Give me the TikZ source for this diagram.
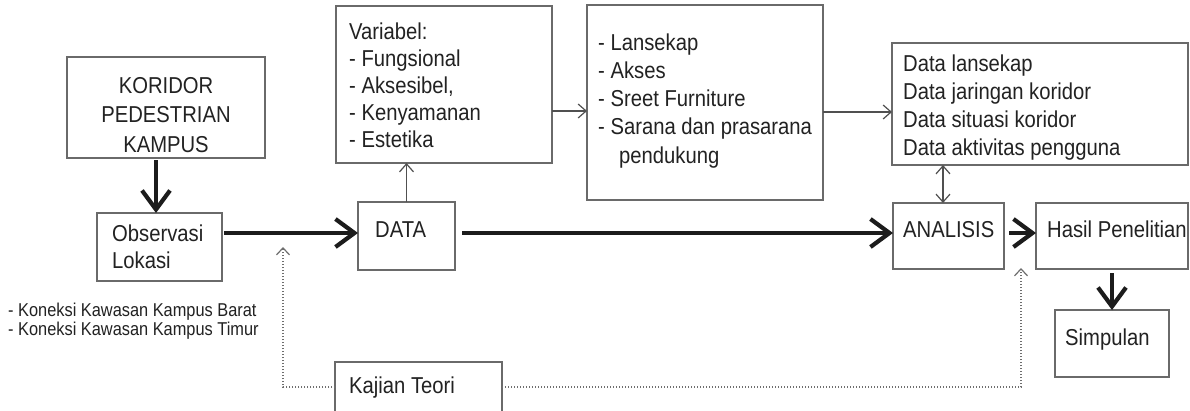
\documentclass[tikz,border=0pt]{standalone}
\usepackage{fontspec}
\setmainfont{Liberation Sans}[FakeStretch=0.88]
\usetikzlibrary{arrows.meta}
\definecolor{boxc}{HTML}{6A6A6A}
\definecolor{txtc}{HTML}{222222}
\definecolor{thkc}{HTML}{1C1C1C}
\definecolor{thnc}{HTML}{505050}
\definecolor{dotc}{HTML}{6E6E6E}
\tikzset{
  box/.style={draw=boxc, line width=1.4pt, inner sep=0pt, outer sep=0pt},
  txt/.style={inner sep=0pt, text=txtc, align=left},
  bigfont/.style={font=\fontsize{23}{27}\selectfont},
  thk/.style={draw=thkc, line width=4.2pt, -{Straight Barb[length=19pt,width=28pt]}},
  thn/.style={draw=thnc, line width=1.2pt, -{Straight Barb[length=8pt,width=14pt]}},
  dotln/.style={draw=dotc, line width=1.2pt, dash pattern=on 1.3pt off 1.7pt, -{Straight Barb[length=7pt,width=13pt]}}
}
\begin{document}
\begin{tikzpicture}[x=1pt,y=-1pt]
\useasboundingbox (0,0) rectangle (1190,410);
\fill[white] (0,0) rectangle (1190,410);

% boxes
\node[box, minimum width=198pt, minimum height=101pt] (kor) at (166,107.5) {};
\node[box, minimum width=125pt, minimum height=68pt] (obs) at (159.5,247) {};
\node[box, minimum width=216pt, minimum height=157pt] (var) at (444,84.5) {};
\node[box, minimum width=97pt, minimum height=68pt] (dat) at (406.5,236) {};
\node[box, minimum width=236pt, minimum height=195pt] (lan) at (705,102.5) {};
\node[box, minimum width=296pt, minimum height=122pt] (dls) at (1040,104) {};
\node[box, minimum width=111pt, minimum height=66pt] (ana) at (948.5,236) {};
\node[box, minimum width=152pt, minimum height=66pt] (has) at (1112,236) {};
\node[box, minimum width=114pt, minimum height=67pt] (sim) at (1112,343.5) {};
\node[box, minimum width=167pt, minimum height=54pt] (kaj) at (418.5,389) {};

% texts
\node[txt, align=center, anchor=north, font=\fontsize{23}{29.5}\selectfont] (korT) at (166,72.35) {\strut KORIDOR\\PEDESTRIAN\\KAMPUS};
\node[txt, bigfont, anchor=north west] (obsT) at (112,222.1) {\strut Observasi\\Lokasi};
\node[txt, bigfont, anchor=north west] (varT) at (349,20.1) {\strut Variabel:\\- Fungsional\\- Aksesibel,\\- Kenyamanan\\- Estetika};
\node[txt, anchor=north west, font=\fontsize{23}{28.25}\selectfont] (lanT) at (598,30.2) {\strut - Lansekap\\- Akses\\- Sreet Furniture\\- Sarana dan prasarana\\\hspace*{21pt}pendukung};
\node[txt, anchor=north west, font=\fontsize{23}{27.8}\selectfont] (dlsT) at (903,52.2) {\strut Data lansekap\\Data jaringan koridor\\Data situasi koridor\\Data aktivitas pengguna};
\node[txt, bigfont, anchor=base west] (datT) at (375,237) {DATA};
\node[txt, bigfont, anchor=base west] (anaT) at (903,237) {ANALISIS};
\node[txt, bigfont, anchor=base west] (hasT) at (1047,237) {Hasil Penelitian};
\node[txt, bigfont, anchor=base west] (simT) at (1065,345) {Simpulan};
\node[txt, bigfont, anchor=base west] (kajT) at (349,393) {Kajian Teori};
\node[txt, anchor=north west, font=\fontsize{18.6}{18}\selectfont] (konT) at (8,302.4) {\strut - Koneksi Kawasan Kampus Barat\\- Koneksi Kawasan Kampus Timur};

% thick arrows
\draw[thk] ([xshift=-10pt,yshift=-2pt]kor.south) -- ([xshift=-3.5pt]obs.north);
\draw[thk] ([xshift=2pt,yshift=14pt]obs.east) -- ([yshift=3pt]dat.west);
\draw[thk] ([xshift=7pt,yshift=3pt]dat.east) -- ([yshift=3pt]ana.west);
\draw[thk] ([xshift=5pt,yshift=3pt]ana.east) -- ([yshift=3pt]has.west);
\draw[thk] ([yshift=-4pt]has.south) -- (sim.north);

% thin arrows
\draw[thn] (dat.north) -- (dat.north |- var.south);
\draw[thn] ([yshift=-26.5pt]var.east) -- ([yshift=-26.5pt]var.east -| lan.west);
\draw[thn] ([yshift=-9.5pt]lan.east) -- ([yshift=-9.5pt]lan.east -| dls.west);
\draw[thn, {Straight Barb[length=8pt,width=14pt]}-{Straight Barb[length=8pt,width=14pt]}] ([xshift=-5.5pt]ana.north) -- ([xshift=-5.5pt]ana.north |- dls.south);

% dotted arrows
\coordinate (t1) at (283,247);
\coordinate (t2) at (1021,268);
\draw[dotln] ([yshift=2pt]kaj.west) -| (t1);
\draw[dotln] ([yshift=2pt]kaj.east) -| (t2);
\end{tikzpicture}
\end{document}
